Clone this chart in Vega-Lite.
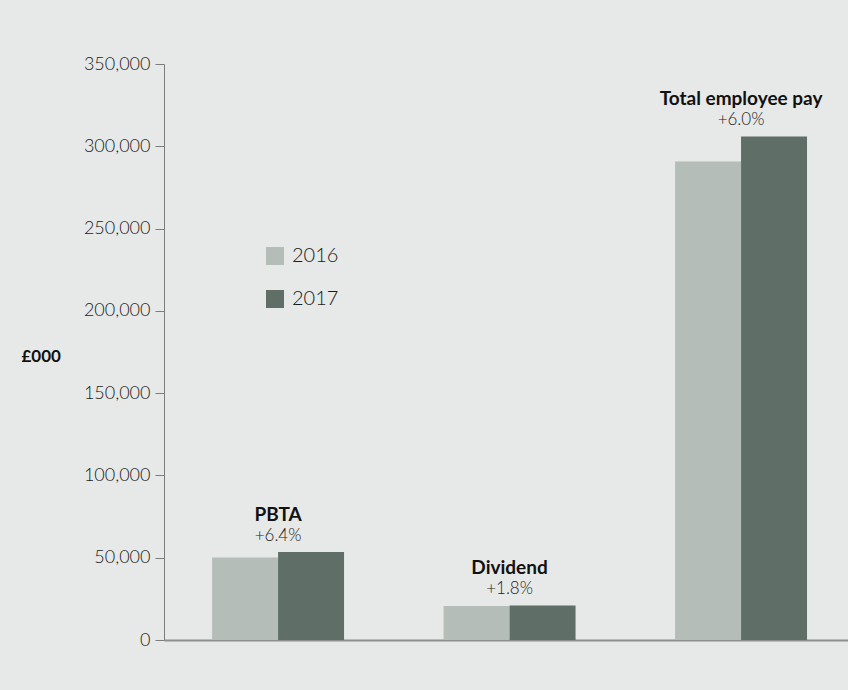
{
  "$schema": "https://vega.github.io/schema/vega-lite/v6.json",
  "width": 684,
  "height": 576,
  "autosize": {"type": "none"},
  "padding": {"left": 164, "top": 64, "right": 0, "bottom": 50},
  "background": "#e6e9e8",
  "config": {"view": {"stroke": null}, "font": "Lato"},
  "data": {"values": [
    {"category": "PBTA", "year": "2016", "value": 50200, "change": "+6.4%"},
    {"category": "PBTA", "year": "2017", "value": 53400, "change": "+6.4%"},
    {"category": "Dividend", "year": "2016", "value": 20600, "change": "+1.8%"},
    {"category": "Dividend", "year": "2017", "value": 21000, "change": "+1.8%"},
    {"category": "Total employee pay", "year": "2016", "value": 290700, "change": "+6.0%"},
    {"category": "Total employee pay", "year": "2017", "value": 306000, "change": "+6.0%"}
  ]},
  "encoding": {
    "x": {
      "field": "category", "type": "nominal",
      "sort": ["PBTA", "Dividend", "Total employee pay"],
      "scale": {"paddingInner": 0.43, "paddingOuter": 0.1924, "align": 0.54},
      "axis": {"labels": false, "ticks": false, "title": null, "domainColor": "#8b8f8d", "domainWidth": 2}
    },
    "y": {
      "field": "value", "type": "quantitative",
      "scale": {"domain": [0, 350000], "nice": false},
      "axis": {
        "values": [0, 50000, 100000, 150000, 200000, 250000, 300000, 350000],
        "format": ",.0f",
        "grid": false,
        "labelFontSize": 18, "labelFontWeight": 300, "labelColor": "#1a1a1a", "labelPadding": 5,
        "tickSize": 9, "tickColor": "#7a7d7b", "domainColor": "#7a7d7b",
        "title": "£000", "titleAngle": 0, "titleX": -143, "titleY": 292,
        "titleAlign": "left", "titleBaseline": "middle",
        "titleFontSize": 17, "titleFontWeight": "bold", "titleColor": "#111111"
      }
    }
  },
  "layer": [
    {
      "mark": {"type": "bar"},
      "encoding": {
        "xOffset": {"field": "year", "type": "nominal", "scale": {"paddingInner": 0, "paddingOuter": 0}},
        "color": {
          "field": "year", "type": "nominal",
          "scale": {"domain": ["2016", "2017"], "range": ["#b5bdb8", "#5f6e66"]},
          "legend": {
            "orient": "none", "legendX": 101, "legendY": 182, "title": null,
            "symbolType": "square", "symbolSize": 324, "symbolStrokeWidth": 0, "symbolOpacity": 1,
            "labelFontSize": 20, "labelFontWeight": 300, "labelColor": "#1a1a1a",
            "labelOffset": 7, "rowPadding": 23
          }
        }
      }
    },
    {
      "transform": [{"filter": "datum.year == '2017'"}],
      "mark": {"type": "text", "dy": -16, "baseline": "middle", "fontSize": 17, "fontWeight": 300, "color": "#222222"},
      "encoding": {"text": {"field": "change"}}
    },
    {
      "transform": [{"filter": "datum.year == '2017'"}],
      "mark": {"type": "text", "dy": -37, "baseline": "middle", "fontSize": 19, "fontWeight": "bold", "color": "#111111"},
      "encoding": {"text": {"field": "category"}}
    }
  ]
}
